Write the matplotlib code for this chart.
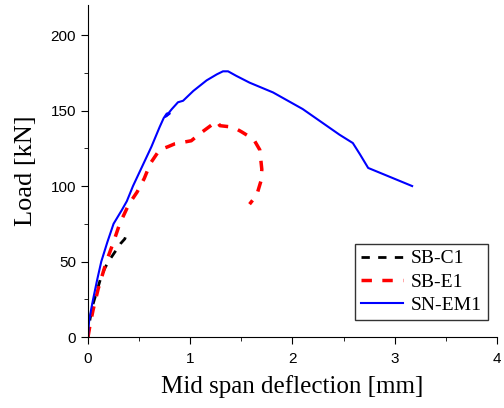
import matplotlib.pyplot as plt
from matplotlib.ticker import MultipleLocator

# SB-C1 (black dashed)
c1_x = [0, 0.02, 0.05, 0.09, 0.12, 0.16, 0.20, 0.24, 0.28, 0.32, 0.36, 0.37, 0.34, 0.31]
c1_y = [0, 12, 22, 31, 38, 45, 50, 54, 58, 62, 65, 67, 68, 68]

# SB-E1 (red dashed)
e1_x = [0, 0.02, 0.05, 0.10, 0.18, 0.25, 0.31, 0.40, 0.48, 0.55, 0.61, 0.70, 0.78, 0.85,
        1.01, 1.10, 1.26, 1.29, 1.42, 1.50, 1.62, 1.68, 1.70, 1.69, 1.65, 1.58]
e1_y = [0, 8, 18, 32, 50, 63, 75, 88, 96, 105, 115, 124, 126, 128,
        130, 135, 143, 140, 139, 136, 131, 124, 111, 103, 94, 88]

# SN-EM1 (blue solid)
em1_x = [0, 0.01, 0.03, 0.05, 0.09, 0.13, 0.19, 0.25, 0.33, 0.38, 0.44, 0.53, 0.62, 0.70,
         0.74, 0.77, 0.80, 0.76, 0.82, 0.88, 0.93, 1.03, 1.16, 1.26, 1.32, 1.37, 1.45,
         1.58, 1.81, 2.10, 2.46, 2.59, 2.66, 2.74, 3.17]
em1_y = [0, 10, 18, 25, 38, 50, 63, 75, 84, 90, 100, 113, 126, 139,
         145, 148, 148, 146, 151, 155.5, 156.5, 163, 170, 174, 176, 176, 173,
         168.5, 162, 151, 134, 128.5, 121, 112, 100]

plt.rcParams['font.family'] = 'Liberation Sans'

fig = plt.figure(figsize=(5.04, 4.08), dpi=100)
ax = fig.add_axes([0.1746, 0.174, 0.8115, 0.814])

ax.plot(c1_x, c1_y, color='black', linestyle=(0, (3, 3)), linewidth=2, label='SB-C1')
ax.plot(e1_x, e1_y, color='red', linestyle=(0, (3, 3)), linewidth=2.5, label='SB-E1')
ax.plot(em1_x, em1_y, color='blue', linestyle='-', linewidth=1.5, label='SN-EM1')

ax.set_xlim(0, 4)
ax.set_ylim(0, 220)
ax.xaxis.set_major_locator(MultipleLocator(1))
ax.xaxis.set_minor_locator(MultipleLocator(0.5))
ax.yaxis.set_major_locator(MultipleLocator(50))
ax.yaxis.set_minor_locator(MultipleLocator(25))
ax.tick_params(which='major', direction='out', length=5, labelsize=11)
ax.tick_params(axis='x', which='major', pad=6)
ax.tick_params(which='minor', direction='out', length=3)

ax.spines['top'].set_visible(False)
ax.spines['right'].set_visible(False)

ax.set_xlabel('Mid span deflection [mm]', family='Liberation Serif', fontsize=18, labelpad=6)
ax.set_ylabel('Load [kN]', family='Liberation Serif', fontsize=19, labelpad=10)

leg = ax.legend(loc='lower right', bbox_to_anchor=(0.978, 0.051), borderaxespad=0,
                prop={'family': 'Liberation Serif', 'size': 14},
                frameon=True, fancybox=False, edgecolor='black',
                handlelength=2.2, borderpad=0.3, labelspacing=0.3, handletextpad=0.4)
leg.get_frame().set_linewidth(1.0)

plt.savefig('out.png')
